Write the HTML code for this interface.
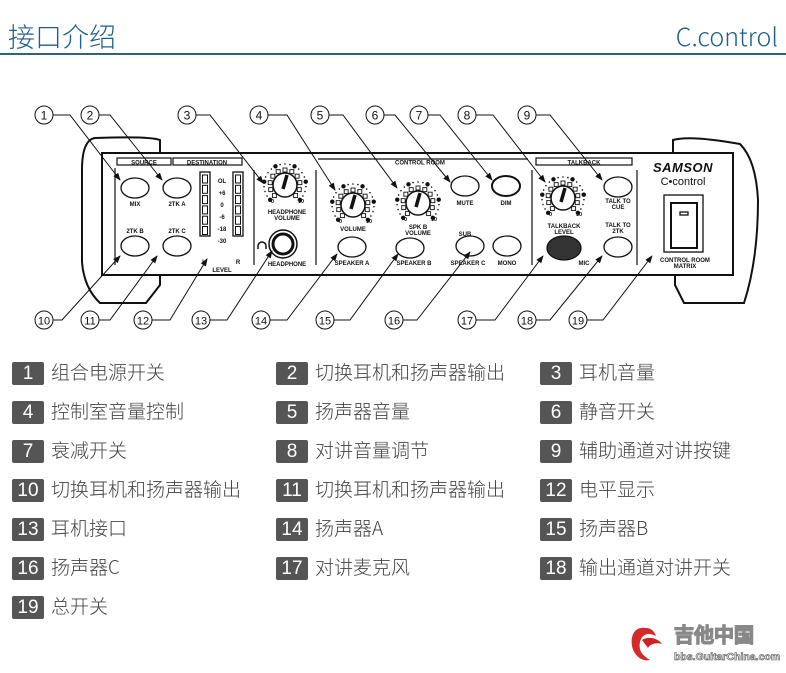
<!DOCTYPE html>
<html><head><meta charset="utf-8"><style>
html,body{margin:0;padding:0;background:#fff;width:786px;height:673px;overflow:hidden;position:relative;font-family:"Liberation Sans","Noto Sans CJK SC",sans-serif}
.t{position:absolute;left:8px;top:16px;font-size:27px;color:#1d5e8c;font-family:"Noto Sans CJK SC",sans-serif;font-weight:300}
.c{position:absolute;right:8px;top:18px;font-size:25px;color:#1d5e8c;font-family:"Noto Sans CJK SC","Liberation Sans",sans-serif;font-weight:300}
.hl{position:absolute;left:0;top:53px;width:786px;height:2px;background:#2a6485}
.l{position:absolute;font-size:19px;color:#444;height:24px;line-height:24px;font-family:"Noto Sans CJK SC",sans-serif;font-weight:300;white-space:nowrap}
.l b{display:inline-block;background:#555;color:#fff;font-weight:300;min-width:32px;text-align:center;margin-right:7px;height:23px;line-height:23px;border-radius:2px;padding:0 1px;box-sizing:border-box;font-family:"Liberation Sans",sans-serif;font-size:19px}
svg text{font-family:"Liberation Sans",sans-serif;font-weight:bold}
</style></head><body>
<div class="t">接口介绍</div><div class="c">C.control</div><div class="hl"></div>
<svg id="s" width="786" height="673" style="position:absolute;left:0;top:0" xmlns="http://www.w3.org/2000/svg">
<defs><marker id="a" markerWidth="8" markerHeight="8" refX="7" refY="4" orient="auto" markerUnits="userSpaceOnUse"><path d="M0,1 L8,4 L0,7z" fill="#111"/></marker></defs>
<g fill="none" stroke="#111" stroke-width="2">
<path d="M102,153 L160,153 L160,140 Q150,136 95,138 Q82,140 82,170 L82,262 Q84,288 100,303 L146,303 L160,285 L160,275 L102,275"/>
<path d="M733,153 L673,153 L673,140 Q690,135 740,144 Q756,160 758,200 Q758,260 744,303 L684,303 L675,285 L675,275 L733,275"/>
<rect x="102" y="153" width="631" height="122"/>
</g>
<g fill="none" stroke="#111" stroke-width="1.2">
<line x1="115" y1="168" x2="115" y2="265"/><line x1="254" y1="170" x2="254" y2="265"/><line x1="316" y1="170" x2="316" y2="265"/><line x1="532" y1="170" x2="532" y2="265"/><line x1="637" y1="170" x2="637" y2="265"/>
<rect x="117" y="158" width="54" height="7"/><rect x="173" y="158" width="69" height="7"/><line x1="318" y1="159" x2="528" y2="159"/><rect x="536" y="158" width="96" height="7"/>
</g>
<g font-size="6" text-anchor="middle" fill="#111">
<text x="144" y="164.5">SOURCE</text><text x="207" y="164.5">DESTINATION</text><text x="420" y="164.5">CONTROL ROOM</text><text x="584" y="164.5">TALKBACK</text>
<text x="135" y="206">MIX</text><text x="177" y="206">2TK A</text><text x="135" y="233">2TK B</text><text x="177" y="233">2TK C</text>
<text x="222" y="183">OL</text><text x="222" y="195">+6</text><text x="222" y="207">0</text><text x="222" y="219">-6</text><text x="222" y="231">-18</text><text x="222" y="243">-30</text>
<text x="204" y="264">L</text><text x="238" y="264">R</text><text x="222" y="272">LEVEL</text>
<text x="287" y="214">HEADPHONE</text><text x="287" y="220">VOLUME</text><text x="287" y="266">HEADPHONE</text>
<text x="353" y="231">VOLUME</text><text x="418" y="229">SPK B</text><text x="418" y="235">VOLUME</text>
<text x="465" y="205">MUTE</text><text x="506" y="205">DIM</text><text x="465" y="236">SUB</text>
<text x="352" y="265">SPEAKER A</text><text x="414" y="265">SPEAKER B</text><text x="468" y="265">SPEAKER C</text><text x="507" y="265">MONO</text>
<text x="564" y="228">TALKBACK</text><text x="564" y="234">LEVEL</text><text x="584" y="265">MIC</text>
<text x="618" y="203">TALK TO</text><text x="618" y="209">CUE</text><text x="618" y="227">TALK TO</text><text x="618" y="233">2TK</text>
<text x="685" y="262">CONTROL ROOM</text><text x="685" y="268">MATRIX</text>
</g>
<text x="683" y="172" font-size="13" font-style="italic" text-anchor="middle" fill="#111" font-weight="900" style="letter-spacing:0.5px">SAMSON</text>
<text x="683" y="185" font-size="11" text-anchor="middle" fill="#111" style="font-weight:normal">C•control</text>
<g fill="#fff" stroke="#111" stroke-width="1.3">
<ellipse cx="135" cy="188" rx="14" ry="10"/><ellipse cx="177" cy="188" rx="14" ry="10"/><ellipse cx="135" cy="246" rx="14" ry="10"/><ellipse cx="177" cy="246" rx="14" ry="10"/>
<ellipse cx="465" cy="186" rx="14" ry="10"/><ellipse cx="506" cy="186" rx="14" ry="10" stroke-width="2"/>
<ellipse cx="352" cy="247" rx="14" ry="10"/><ellipse cx="410" cy="248" rx="14" ry="10"/><ellipse cx="470" cy="246" rx="14" ry="10"/><ellipse cx="507" cy="246" rx="14" ry="10"/>
<ellipse cx="618" cy="187" rx="14" ry="10"/><ellipse cx="618" cy="247" rx="14" ry="10"/>
<ellipse cx="564" cy="248" rx="17" ry="12" fill="#333"/>
<rect x="200" y="172" width="10" height="64"/><rect x="233" y="172" width="10" height="64"/>
<circle cx="283" cy="244" r="14" stroke-width="1.5"/><circle cx="283" cy="244" r="10" stroke-width="3"/>
<rect x="664" y="195" width="39" height="57"/><rect x="671" y="203" width="26" height="45" stroke-width="2"/><rect x="680" y="212" width="8" height="3"/>
</g>
<g id="cells" fill="none" stroke="#111" stroke-width="1"></g>
<g id="k"></g>
<path d="M258,246 a4,4 0 0 1 8,0 M258,246 v3 M266,246 v3" fill="none" stroke="#111" stroke-width="1.5"/>
<g id="ld" fill="none" stroke="#111" stroke-width="1"></g>
<g id="cc"></g>
<g transform="translate(628,622)">
<path d="M18,6 C8,4 2,12 4,24 C6,34 14,40 22,38 C16,34 10,30 12,20 C14,12 20,10 28,14 C26,8 22,6 18,6z" fill="#d42a2a"/>
<path d="M14,18 C20,14 30,16 34,22 C28,20 22,22 20,26z" fill="#c22"/>
<text x="46" y="20" font-size="20" fill="#fff" stroke="#888" stroke-width="1.2" font-family="Noto Sans CJK SC,sans-serif" font-weight="900">吉他中国</text>
<text x="46" y="38" font-size="10.5" fill="#fff" stroke="#777" stroke-width="0.8" font-weight="bold">bbs.GuitarChina.com</text>
</g>
</svg>
<div class="l" style="left:12px;top:360px"><b>1</b>组合电源开关</div>
<div class="l" style="left:276px;top:360px"><b>2</b>切换耳机和扬声器输出</div>
<div class="l" style="left:540px;top:360px"><b>3</b>耳机音量</div>
<div class="l" style="left:12px;top:399px"><b>4</b>控制室音量控制</div>
<div class="l" style="left:276px;top:399px"><b>5</b>扬声器音量</div>
<div class="l" style="left:540px;top:399px"><b>6</b>静音开关</div>
<div class="l" style="left:12px;top:438px"><b>7</b>衰减开关</div>
<div class="l" style="left:276px;top:438px"><b>8</b>对讲音量调节</div>
<div class="l" style="left:540px;top:438px"><b>9</b>辅助通道对讲按键</div>
<div class="l" style="left:12px;top:477px"><b>10</b>切换耳机和扬声器输出</div>
<div class="l" style="left:276px;top:477px"><b>11</b>切换耳机和扬声器输出</div>
<div class="l" style="left:540px;top:477px"><b>12</b>电平显示</div>
<div class="l" style="left:12px;top:516px"><b>13</b>耳机接口</div>
<div class="l" style="left:276px;top:516px"><b>14</b>扬声器A</div>
<div class="l" style="left:540px;top:516px"><b>15</b>扬声器B</div>
<div class="l" style="left:12px;top:555px"><b>16</b>扬声器C</div>
<div class="l" style="left:276px;top:555px"><b>17</b>对讲麦克风</div>
<div class="l" style="left:540px;top:555px"><b>18</b>输出通道对讲开关</div>
<div class="l" style="left:12px;top:594px"><b>19</b>总开关</div>
<script>
var NS="http://www.w3.org/2000/svg";
function el(p,t,a,txt){var e=document.createElementNS(NS,t);for(var k in a)e.setAttribute(k,a[k]);if(txt)e.textContent=txt;p.appendChild(e);return e;}
var cells=document.getElementById('cells');
for(var i=0;i<6;i++){el(cells,'rect',{x:202.5,y:175+i*10.3,width:5,height:8});el(cells,'rect',{x:235.5,y:175+i*10.3,width:5,height:8});}
var K=document.getElementById('k');
[[285,185],[353,205],[418,203],[563,198]].forEach(function(c){
 var x=c[0],y=c[1];
 for(var j=0;j<=20;j++){var an=(225-j*13.5)*Math.PI/180;
  if(j%4==0){el(K,'circle',{cx:x+21*Math.cos(an),cy:y-21*Math.sin(an),r:2.2,fill:'#111'});}
  else el(K,'circle',{cx:x+21*Math.cos(an),cy:y-21*Math.sin(an),r:0.8,fill:'#111'});
  if(j%2==0)el(K,'rect',{x:x+15*Math.cos(an)-2,y:y-15*Math.sin(an)-2,width:4,height:4,fill:'#fff',stroke:'#111','stroke-width':0.9});
 }
 el(K,'circle',{cx:x,cy:y,r:12,fill:'#fff',stroke:'#111','stroke-width':1.5});
 el(K,'line',{x1:x-2,y1:y+4,x2:x+2,y2:y-10,stroke:'#111','stroke-width':3.5});
 el(K,'text',{x:x-14,y:y+18,'font-size':5.5,fill:'#111'},'0');
 el(K,'text',{x:x+13,y:y+18,'font-size':5.5,fill:'#111'},'10');
});
var ld=document.getElementById('ld'),cc=document.getElementById('cc');
var L=[[1,44,115,70,120,180],[2,90,115,110,162,180],[3,187,115,210,263,183],[4,259,115,287,335,190],[5,320,115,343,397,188],[6,375,115,395,450,182],[7,419,115,440,492,180],[8,467,115,493,545,182],[9,527,115,550,602,180],
[10,44,320,62,120,256],[11,90,320,110,157,256],[12,143,320,170,207,259],[13,201,320,227,272,251],[14,261,320,287,337,254],[15,325,320,350,398,254],[16,394,320,417,470,252],[17,467,320,495,543,256],[18,527,320,550,602,256],[19,578,320,603,652,256]];
L.forEach(function(d){
 el(ld,'path',{d:'M'+(d[1]+9)+','+d[2]+' L'+d[3]+','+d[2]+' L'+d[4]+','+d[5],'marker-end':'url(#a)'});
 el(cc,'circle',{cx:d[1],cy:d[2],r:9,fill:'#fff',stroke:'#111','stroke-width':1});
 var t=el(cc,'text',{x:d[1],y:d[2]+4.5,'font-size':d[0]>9?11:12,'text-anchor':'middle',fill:'#111',style:'font-weight:normal'},String(d[0]));
});
</script>
</body></html>
